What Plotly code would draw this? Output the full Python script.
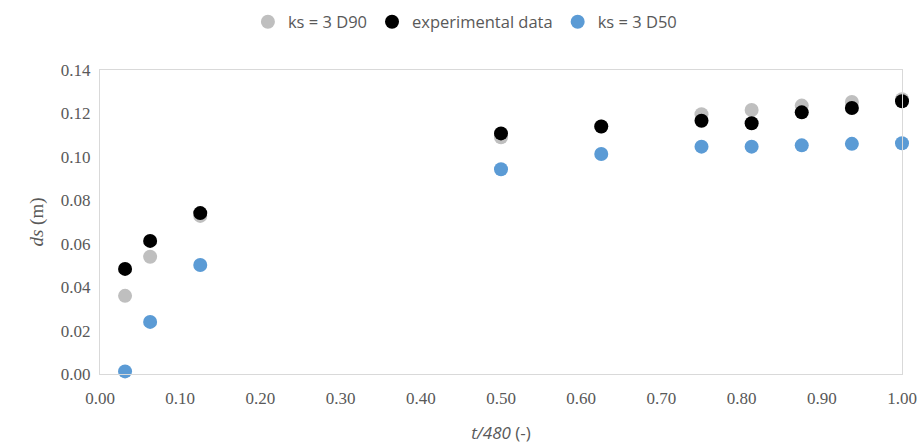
import plotly.graph_objects as go

t_ratio = [0.03125, 0.0625, 0.125, 0.5, 0.625, 0.75, 0.8125, 0.875, 0.9375, 1.0]
ds_d90 = [0.036, 0.054, 0.0728, 0.109, 0.1140, 0.1196, 0.1216, 0.1236, 0.1253, 0.1265]
ds_exp = [0.0484, 0.0613, 0.0741, 0.1108, 0.1140, 0.1166, 0.1155, 0.1205, 0.1225, 0.1256]
ds_d50 = [0.0012, 0.024, 0.0502, 0.0943, 0.1013, 0.1047, 0.1047, 0.1053, 0.1060, 0.1063]

x_ticks = [0.0, 0.1, 0.2, 0.3, 0.4, 0.5, 0.6, 0.7, 0.8, 0.9, 1.0]
y_ticks = [0.0, 0.02, 0.04, 0.06, 0.08, 0.10, 0.12, 0.14]

SERIF = "Liberation Serif, Times New Roman, DejaVu Serif, serif"

fig = go.Figure()
series = [
    ("ks = 3 D90", ds_d90, "#bfbfbf"),
    ("experimental data", ds_exp, "#000000"),
    ("ks = 3 D50", ds_d50, "#5b9bd5"),
]
for name, vals, col in series:
    fig.add_trace(go.Scatter(x=t_ratio, y=vals, mode="markers", name=name,
                             marker=dict(size=14, color=col, line=dict(width=0)),
                             cliponaxis=False))

axis_common = dict(showgrid=False, zeroline=False, showline=True, linecolor="#d9d9d9",
                   linewidth=1.3, mirror=True, ticks="", automargin=False,
                   tickfont=dict(family=SERIF, size=17, color="#595959"))

fig.update_layout(
    width=921, height=446,
    margin=dict(l=100, r=19, t=70, b=72, autoexpand=False),
    paper_bgcolor="white", plot_bgcolor="white",
    showlegend=True,
    legend=dict(orientation="h", x=0.455, xanchor="center", y=1.158, yanchor="middle",
                font=dict(family="Open Sans", size=16.5, color="#595959"),
                itemwidth=30, tracegroupgap=0),
    xaxis=dict(range=[0, 1.0], tickvals=x_ticks, ticktext=[f"{v:.2f}" for v in x_ticks],
               ticklabelstandoff=8,
               title=dict(text="<i>t/480</i> (-)", standoff=20,
                          font=dict(family="Open Sans", size=17, color="#595959")),
               **axis_common),
    yaxis=dict(range=[0, 0.14], tickvals=y_ticks, ticktext=[f"{v:.2f}" for v in y_ticks],
               ticklabelstandoff=5,
               title=dict(text="<i>ds</i> (m)", standoff=12,
                          font=dict(family=SERIF, size=19, color="#595959")),
               **axis_common),
)

fig.write_html("out.html")
